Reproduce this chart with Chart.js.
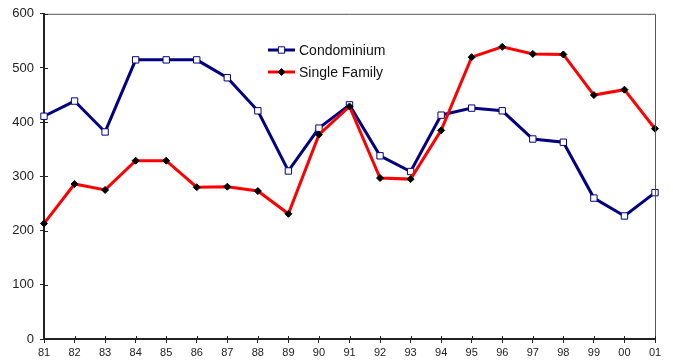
<!DOCTYPE html>
<html>
<head>
<meta charset="utf-8">
<title>Condominium vs Single Family</title>
<script src="https://cdn.jsdelivr.net/npm/chart.js@4/dist/chart.umd.min.js"></script>
<style>
  html, body { margin: 0; padding: 0; background: #fff; }
  #chart { display: block; }
</style>
</head>
<body>
<canvas id="chart" width="673" height="360"></canvas>
<script>
// Years along the bottom axis
const years = ['81', '82', '83', '84', '85', '86', '87', '88', '89', '90', '91',
               '92', '93', '94', '95', '96', '97', '98', '99', '00', '01'];

// Series values
const condominium = [411, 439, 382, 515, 515, 515, 482, 421, 310, 389, 432,
                     338, 309, 413, 426, 421, 369, 363, 260, 227, 270];
const singleFamily = [213, 286, 275, 329, 329, 280, 281, 273, 231, 377, 429,
                      297, 295, 385, 520, 539, 526, 525, 450, 460, 388];

// Y axis ticks
const yTicks = [0, 100, 200, 300, 400, 500, 600];

const FONT = 'Arial, "Liberation Sans", sans-serif';

// Draws the top/right frame, the inward half of the tick marks and the legend
const framePlugin = {
    id: 'frame',
    afterDraw(chart, args, opts) {
        const ctx = chart.ctx;
        const a = chart.chartArea;
        const x = chart.scales.x, y = chart.scales.y;
        ctx.save();

        // grey frame on top and right
        ctx.strokeStyle = '#555';
        ctx.lineWidth = 1;
        ctx.beginPath();
        ctx.moveTo(a.left, a.top + 0.5);
        ctx.lineTo(a.right + 0.5, a.top + 0.5);
        ctx.lineTo(a.right + 0.5, a.bottom);
        ctx.stroke();

        // ticks poke into the plot a little
        ctx.strokeStyle = '#222';
        ctx.beginPath();
        y.ticks.forEach((t, i) => {
            const py = Math.round(y.getPixelForTick(i)) + 0.5;
            ctx.moveTo(a.left, py);
            ctx.lineTo(a.left + 4, py);
        });
        x.ticks.forEach((t, i) => {
            const px = Math.round(x.getPixelForTick(i)) + 0.5;
            ctx.moveTo(px, a.bottom);
            ctx.lineTo(px, a.bottom - 3);
        });
        ctx.stroke();

        // legend
        ctx.font = '14px ' + FONT;
        ctx.textBaseline = 'middle';
        ctx.textAlign = 'left';
        opts.items.forEach((item, i) => {
            const ds = chart.data.datasets[item];
            const ly = opts.top + i * opts.rowGap;
            const cx = opts.left + 13.5;
            ctx.strokeStyle = ds.borderColor;
            ctx.lineWidth = 3;
            ctx.beginPath();
            ctx.moveTo(opts.left, ly);
            ctx.lineTo(opts.left + 27, ly);
            ctx.stroke();
            ctx.fillStyle = ds.pointBackgroundColor;
            ctx.strokeStyle = ds.pointBorderColor;
            ctx.lineWidth = ds.pointBorderWidth;
            ctx.beginPath();
            const r = ds.pointRadius;
            if (ds.pointStyle === 'rect') {
                const s = Math.SQRT1_2 * r;
                ctx.rect(cx - s, ly - s, 2 * s, 2 * s);
            } else {
                ctx.moveTo(cx - r, ly);
                ctx.lineTo(cx, ly - r);
                ctx.lineTo(cx + r, ly);
                ctx.lineTo(cx, ly + r);
                ctx.closePath();
            }
            ctx.fill();
            ctx.stroke();
            ctx.fillStyle = '#111';
            ctx.fillText(ds.label, opts.left + 31, ly + 1);
        });
        ctx.restore();
    }
};

new Chart(document.getElementById('chart'), {
    type: 'line',
    data: {
        labels: years,
        datasets: [
            {
                label: 'Condominium',
                data: condominium,
                borderColor: '#000080',
                borderWidth: 3,
                pointStyle: 'rect',
                pointRadius: 4.5,
                pointBackgroundColor: '#ffffff',
                pointBorderColor: '#000080',
                pointBorderWidth: 1,
                tension: 0,
                clip: false,
                order: 1
            },
            {
                label: 'Single Family',
                data: singleFamily,
                borderColor: '#ff0000',
                borderWidth: 3,
                pointStyle: 'rectRot',
                pointRadius: 3.5,
                pointBackgroundColor: '#000000',
                pointBorderColor: '#000000',
                pointBorderWidth: 1,
                tension: 0,
                clip: false,
                order: 0
            }
        ]
    },
    options: {
        responsive: false,
        animation: false,
        layout: { padding: { top: 12, right: 18, left: 0, bottom: 0 } },
        plugins: {
            legend: { display: false },
            tooltip: { enabled: false },
            frame: { items: [0, 1], left: 268, top: 50, rowGap: 22 }
        },
        scales: {
            x: {
                offset: false,
                grid: { display: true, drawOnChartArea: false, tickLength: 4, color: '#222', tickWidth: 1 },
                border: { display: true, color: '#222', width: 2 },
                ticks: { color: '#222', font: { family: FONT, size: 11 }, padding: 3,
                         maxRotation: 0, autoSkip: false },
                afterFit: s => { s.height = 21; }
            },
            y: {
                min: 0,
                max: 600,
                afterBuildTicks: s => { s.ticks = yTicks.map(v => ({ value: v })); },
                grid: { display: true, drawOnChartArea: false, tickLength: 4, color: '#222', tickWidth: 1 },
                border: { display: true, color: '#222', width: 2 },
                ticks: { color: '#222', font: { family: FONT, size: 13 }, padding: 6 },
                afterFit: s => { s.width = 44; }
            }
        }
    },
    plugins: [framePlugin]
});
</script>
</body>
</html>
